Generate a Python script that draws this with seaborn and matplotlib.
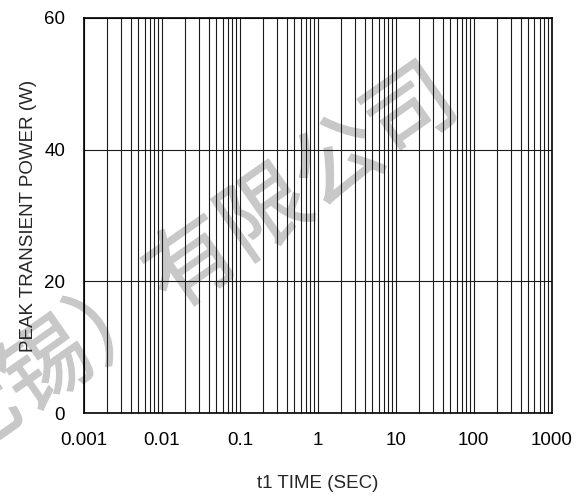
import matplotlib
matplotlib.use("Agg")
import matplotlib.pyplot as plt
import matplotlib.ticker as mticker
import matplotlib.patheffects as pe
import seaborn as sns

# axis data (no curve is drawn on this sheet)
x_ticks = [0.001, 0.01, 0.1, 1, 10, 100, 1000]
x_tick_labels = ["0.001", "0.01", "0.1", "1", "10", "100", "1000"]
y_ticks = [0, 20, 40, 60]
y_tick_labels = ["0", "20", "40", "60"]
curve_t = []
curve_p = []

x_label = "t1 TIME (SEC)"
y_label = "PEAK TRANSIENT POWER (W)"
watermark = "无锡）有限公司"

sns.set_style("white")
plt.rcParams["font.family"] = ["Liberation Sans", "DejaVu Sans"]

fig = plt.figure(figsize=(5.87, 4.97), dpi=100)
ax = fig.add_axes([0.143, 0.169, 0.797, 0.795])
ax.set_facecolor("none")

sns.lineplot(x=curve_t, y=curve_p, ax=ax, color="black")

ax.set_xscale("log")
ax.set_xlim(x_ticks[0], x_ticks[-1])
ax.set_ylim(y_ticks[0], y_ticks[-1])
ax.set_xticks(x_ticks)
ax.set_xticklabels(x_tick_labels)
ax.xaxis.set_minor_locator(mticker.LogLocator(base=10, subs=range(2, 10)))
ax.xaxis.set_minor_formatter(mticker.NullFormatter())
ax.set_yticks(y_ticks)
ax.set_yticklabels(y_tick_labels)

ax.grid(True, which="both", axis="x", color="#1a1a1a", linewidth=0.8)
ax.grid(True, which="major", axis="y", color="#1a1a1a", linewidth=0.8)
ax.tick_params(axis="both", which="both", length=0, labelsize=13.5,
               pad=13.5, colors="black")

for s in ax.spines.values():
    s.set_visible(True)
    s.set_color("black")
    s.set_linewidth(1.2)

ax.set_xlabel(x_label, fontsize=13.5, labelpad=19)
ax.set_ylabel(y_label, fontsize=13.5, labelpad=5)

# faint company watermark behind the grid
fig.text(0.33, 0.463, watermark, fontsize=64, color="#c8c8c8",
         rotation=35, ha="center", va="center", zorder=-1,
         family=["Noto Sans CJK SC", "DejaVu Sans"],
         path_effects=[pe.withStroke(linewidth=1.0, foreground="#c8c8c8")])

fig.savefig("out.png", dpi=100, facecolor="white")
